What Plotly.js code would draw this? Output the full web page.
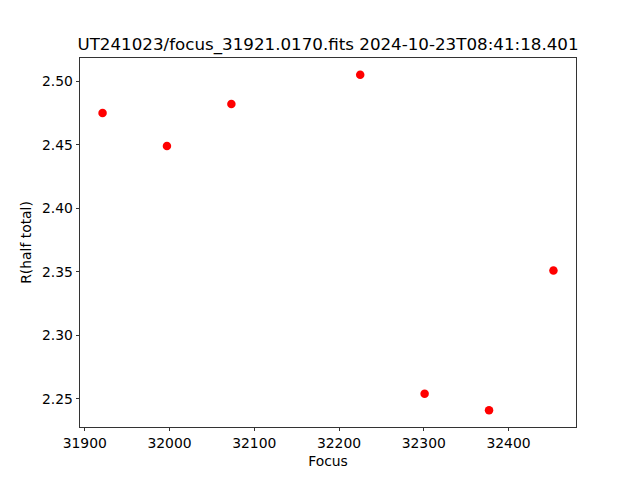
<!DOCTYPE html>
<html>
<head>
<meta charset="utf-8">
<script src="https://cdn.plot.ly/plotly-3.0.1.min.js"></script>
<style>html,body{margin:0;padding:0;background:#fff}#chart{width:640px;height:480px}</style>
</head>
<body>
<div id="chart"></div>
<script>
const focusValues = [31921, 31997, 32073, 32225, 32301, 32377, 32453];
const rHalfTotal = [2.475, 2.449, 2.482, 2.505, 2.254, 2.241, 2.351];
const xTickVals = [31900, 32000, 32100, 32200, 32300, 32400];
const yTickVals = [2.25, 2.30, 2.35, 2.40, 2.45, 2.50];
const titleText = "UT241023/focus_31921.0170.fits 2024-10-23T08:41:18.401";

const font = "DejaVu Sans, sans-serif";
const trace = {
  x: focusValues,
  y: rHalfTotal,
  mode: "markers",
  type: "scatter",
  marker: {color: "#ff0000", size: 8.5},
  hoverinfo: "skip"
};
const layout = {
  width: 640, height: 480,
  margin: {l: 80, r: 64, t: 58, b: 53, pad: 0},
  paper_bgcolor: "#ffffff",
  plot_bgcolor: "#ffffff",
  showlegend: false,
  font: {family: font, size: 13.9, color: "#000"},
  title: {text: titleText, font: {family: font, size: 16.7, color: "#000"},
          x: 0.5, xref: "paper", y: 1, yref: "paper", yanchor: "bottom", pad: {b: 8}},
  xaxis: {
    range: [31894.4, 32479.6],
    tickvals: xTickVals,
    ticktext: xTickVals.map(String),
    ticks: "outside", ticklen: 3.5, tickwidth: 0.8, tickcolor: "#000",
    showline: true, linecolor: "#000", linewidth: 0.8, mirror: true,
    showgrid: false, zeroline: false,
    tickfont: {family: font, size: 13.9, color: "#000"},
    title: {text: "Focus", font: {family: font, size: 13.9, color: "#000"}, standoff: 6}
  },
  yaxis: {
    range: [2.2278, 2.5182],
    tickvals: yTickVals,
    ticktext: yTickVals.map(v => v.toFixed(2)),
    ticks: "outside", ticklen: 3.5, tickwidth: 0.8, tickcolor: "#000",
    showline: true, linecolor: "#000", linewidth: 0.8, mirror: true,
    showgrid: false, zeroline: false,
    tickfont: {family: font, size: 13.9, color: "#000"},
    title: {text: "R(half total)", font: {family: font, size: 13.9, color: "#000"}, standoff: 7}
  }
};
Plotly.newPlot("chart", [trace], layout, {staticPlot: true, displayModeBar: false});
</script>
</body>
</html>
